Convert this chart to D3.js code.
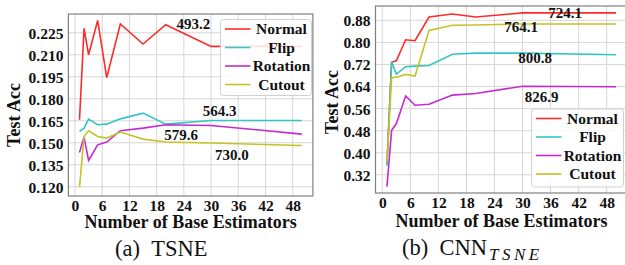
<!DOCTYPE html>
<html>
<head>
<meta charset="utf-8">
<script src="https://cdn.jsdelivr.net/npm/d3@7"></script>
<style>
  body { margin: 0; background: #fff; }
  svg text { font-family: "Liberation Serif", "Times New Roman", Times, serif; }
</style>
</head>
<body>
<svg id="chart" width="625" height="265" font-family="Liberation Serif, serif"></svg>
<script>
// number of base estimators (x values)
const estimators = [1, 2, 3, 5, 7, 10, 15, 20, 30, 50];
const seriesNames = ["Normal", "Flip", "Rotation", "Cutout"];
const xTicks = [0, 6, 12, 18, 24, 30, 36, 42, 48];

// (a) TSNE
const tsneNormal   = [0.1657, 0.228, 0.210, 0.2334, 0.1945, 0.231, 0.2173, 0.2305, 0.2157, 0.2157];
const tsneFlip     = [0.1577, 0.160, 0.1661, 0.1623, 0.1627, 0.1663, 0.1702, 0.1627, 0.1652, 0.1652];
const tsneRotation = [0.1434, 0.1539, 0.1379, 0.1486, 0.1505, 0.1582, 0.160, 0.1623, 0.1618, 0.1559];
const tsneCutout   = [0.1198, 0.1543, 0.1582, 0.1543, 0.1532, 0.1573, 0.1525, 0.1505, 0.1498, 0.1481];
const tsneYTicks = [0.120, 0.135, 0.150, 0.165, 0.180, 0.195, 0.210, 0.225];
const tsneNotes = ["493.2", "564.3", "579.6", "730.0"];

// (b) CNN_TSNE
const cnnNormal   = [0.36, 0.728, 0.733, 0.8095, 0.806, 0.892, 0.903, 0.892, 0.907, 0.907];
const cnnFlip     = [0.353, 0.730, 0.685, 0.712, 0.714, 0.716, 0.757, 0.761, 0.761, 0.755];
const cnnRotation = [0.277, 0.481, 0.505, 0.606, 0.572, 0.576, 0.609, 0.615, 0.641, 0.639];
const cnnCutout   = [0.365, 0.672, 0.674, 0.684, 0.678, 0.843, 0.862, 0.863, 0.867, 0.867];
const cnnYTicks = [0.32, 0.40, 0.48, 0.56, 0.64, 0.72, 0.80, 0.88];
const cnnNotes = ["724.1", "764.1", "800.8", "826.9"];

const colors = ["#ff2a2a", "#33c6c6", "#c52ad0", "#c4c427"];
const serif = "'Liberation Serif', 'Times New Roman', serif";

const svg = d3.select("#chart");

function bold(sel, size) {
  return sel.style("font-family", serif).style("font-weight", "700")
    .style("font-size", size + "px").style("fill", "#111");
}

function drawPanel(cfg) {
  const g = svg.append("g");
  const x = d3.scaleLinear().domain([-1.45, 52.45]).range([cfg.left, cfg.right]);
  const y = d3.scaleLinear().domain(cfg.yDomain).range([cfg.bottom, cfg.top]);

  const clipId = "clip-" + cfg.id;
  g.append("clipPath").attr("id", clipId)
    .append("rect")
    .attr("x", cfg.left).attr("y", cfg.top)
    .attr("width", cfg.right - cfg.left).attr("height", cfg.bottom - cfg.top);

  // grid
  g.append("g").selectAll("line").data(xTicks).enter().append("line")
    .attr("x1", d => x(d)).attr("x2", d => x(d))
    .attr("y1", cfg.top).attr("y2", cfg.bottom)
    .style("stroke", "#d6d6d6").style("stroke-width", 1);
  g.append("g").selectAll("line").data(cfg.yTicks).enter().append("line")
    .attr("x1", cfg.left).attr("x2", cfg.right)
    .attr("y1", d => y(d)).attr("y2", d => y(d))
    .style("stroke", "#d6d6d6").style("stroke-width", 1);

  // lines
  const line = d3.line().x((d, i) => x(estimators[i])).y(d => y(d));
  const plot = g.append("g").attr("clip-path", `url(#${clipId})`);
  cfg.series.forEach((s, i) => {
    plot.append("path").datum(s)
      .attr("d", line)
      .style("fill", "none")
      .style("stroke", colors[i])
      .style("stroke-width", 1.6);
  });

  // frame
  g.append("rect")
    .attr("x", cfg.left).attr("y", cfg.top)
    .attr("width", cfg.right - cfg.left).attr("height", cfg.bottom - cfg.top)
    .style("fill", "none").style("stroke", "#808080").style("stroke-width", 1.2);

  // axes (labels only, no tick marks)
  const xAxis = g.append("g")
    .attr("transform", `translate(0,${cfg.bottom})`)
    .call(d3.axisBottom(x).tickValues(xTicks).tickSize(0).tickPadding(4));
  const yAxis = g.append("g")
    .attr("transform", `translate(${cfg.left},0)`)
    .call(d3.axisLeft(y).tickValues(cfg.yTicks).tickSize(0).tickPadding(5).tickFormat(d3.format(cfg.yFormat)));
  [xAxis, yAxis].forEach(a => {
    a.attr("font-family", null).attr("font-size", null);
    a.select(".domain").remove();
    bold(a.selectAll("text"), 15.5);
  });
  yAxis.selectAll("text").attr("dy", "0.35em");

  // axis titles
  bold(g.append("text"), 18)
    .attr("x", (cfg.left + cfg.right) / 2).attr("y", cfg.titleY)
    .attr("text-anchor", "middle")
    .text("Number of Base Estimators");
  bold(g.append("text"), 18)
    .attr("transform", `translate(${cfg.yLabelX},${cfg.yLabelY}) rotate(-90)`)
    .attr("text-anchor", "middle")
    .text("Test Acc");

  // annotations
  cfg.notes.forEach((n, i) => {
    bold(g.append("text"), 15)
      .attr("x", x(cfg.notePos[i][0])).attr("y", y(cfg.notePos[i][1]))
      .attr("dy", "0.35em")
      .attr("text-anchor", "middle")
      .text(n);
  });

  // legend
  const lg = g.append("g");
  lg.append("rect")
    .attr("x", cfg.legend.x).attr("y", cfg.legend.y)
    .attr("width", cfg.legend.w).attr("height", cfg.legend.h)
    .attr("rx", 3)
    .style("fill", "#fff").style("fill-opacity", 0.85)
    .style("stroke", "#d0d0d0").style("stroke-width", 1);
  seriesNames.forEach((name, i) => {
    const ly = cfg.legend.y + 9.5 + i * 18.5;
    lg.append("line")
      .attr("x1", cfg.legend.x + 4.5).attr("x2", cfg.legend.x + 30)
      .attr("y1", ly).attr("y2", ly)
      .style("stroke", colors[i]).style("stroke-width", 1.6);
    bold(lg.append("text"), 15.5)
      .attr("x", cfg.legend.x + 61).attr("y", ly).attr("dy", "0.35em")
      .attr("text-anchor", "middle")
      .text(name);
  });
}

drawPanel({
  id: "a", left: 68.4, right: 312.9, top: 14, bottom: 196,
  yDomain: [0.1137, 0.2378], yTicks: tsneYTicks, yFormat: ".3f",
  series: [tsneNormal, tsneFlip, tsneRotation, tsneCutout],
  notes: tsneNotes,
  notePos: [[26.1, 0.2309], [31.9, 0.1716], [23.4, 0.1552], [34.6, 0.1416]],
  legend: { x: 220.5, y: 19.5, w: 91, h: 76 },
  titleY: 228, yLabelX: 19.5, yLabelY: 115
});

drawPanel({
  id: "b", left: 375.5, right: 627.5, top: 6, bottom: 193,
  yDomain: [0.254, 0.932], yTicks: cnnYTicks, yFormat: ".2f",
  series: [cnnNormal, cnnFlip, cnnRotation, cnnCutout],
  notes: cnnNotes,
  notePos: [[39.1, 0.907], [29.7, 0.858], [32.7, 0.743], [34.1, 0.602]],
  legend: { x: 531.5, y: 109, w: 92, h: 78 },
  titleY: 227, yLabelX: 337.5, yLabelY: 102
});

// captions
svg.append("text")
  .attr("x", 115).attr("y", 256)
  .style("font-family", serif).style("font-size", "22.5px").style("fill", "#111")
  .text("(a)\u00a0\u00a0TSNE");
const cap = svg.append("text")
  .attr("x", 402).attr("y", 255)
  .style("font-family", serif).style("font-size", "22.5px").style("fill", "#111");
cap.append("tspan").text("(b)\u00a0\u00a0CNN");
cap.append("tspan")
  .attr("dx", 2).attr("dy", 5)
  .style("font-style", "italic").style("font-size", "17px")
  .style("letter-spacing", "3.5px")
  .text("TSNE");
</script>
</body>
</html>
